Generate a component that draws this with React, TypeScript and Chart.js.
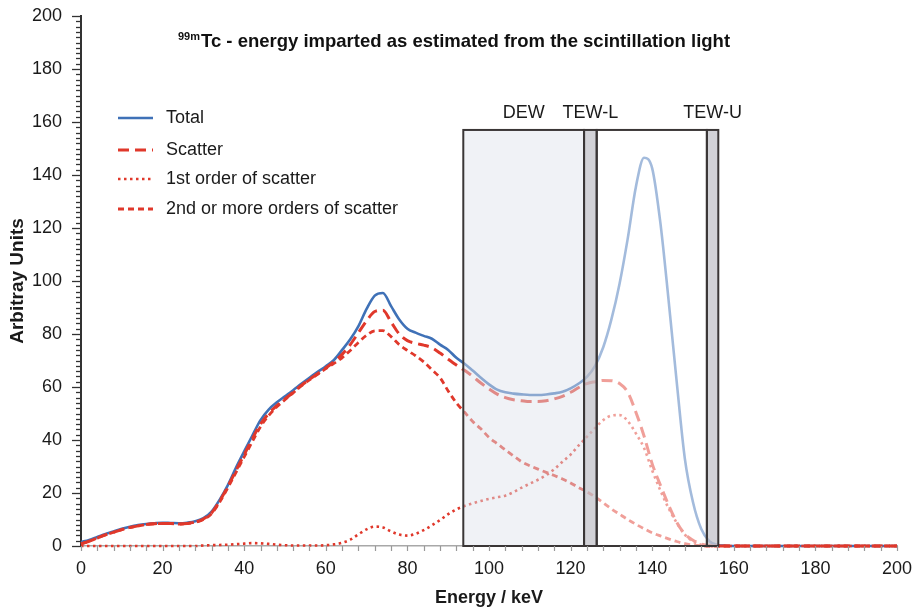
import React, { useEffect, useRef } from "react";
import { Chart, registerables } from "chart.js";

Chart.register(...registerables);

const FONT = "'Liberation Sans', Arial, Helvetica, sans-serif";

// Energy bins (keV)
const energies = [
  0, 2, 4, 6, 8, 10, 12, 14, 16, 18,
  20, 22, 24, 26, 28, 30, 32, 34, 36, 38,
  40, 42, 44, 46, 48, 50, 52, 54, 56, 58,
  60, 62, 64, 66, 68, 70, 72, 74, 76, 78,
  80, 82, 84, 86, 88, 90, 92, 94, 96, 98,
  100, 102, 104, 106, 108, 110, 112, 114, 116, 118,
  120, 122, 124, 126, 128, 130, 132, 134, 136, 138,
  140, 142, 144, 146, 148, 150, 152, 154, 156, 158,
  160, 170, 180, 190, 200,
];

const totalCounts = [
  1.5, 2.3, 3.4, 4.5, 5.5, 6.5, 7.3, 7.9, 8.3, 8.6,
  8.8, 8.7, 8.6, 8.8, 9.3, 10.5, 13, 17.5, 23, 29.6,
  35.7, 41.7, 47.5, 51.5, 54.2, 56.5, 58.8, 61.2, 63.5, 65.7,
  67.8, 70.2, 74, 78, 83, 89.5, 94.5, 95.5, 90.5, 85.5,
  82, 80.5, 79.3, 78.2, 76, 74, 71, 68.8, 66.2, 63.5,
  61, 59, 58, 57.5, 57.2, 57, 57, 57.2, 57.6, 58.2,
  59.5, 61.3, 63.8, 68, 75, 85.5, 99, 116, 135.5, 146.5,
  142.5, 122, 93, 62, 33, 16.5, 6.5, 1.8, 0.4, 0.1,
  0, 0, 0, 0, 0,
];

const scatterCounts = [
  0.8, 1.8, 3, 4.2, 5.2, 6.2, 7, 7.6, 8.1, 8.4,
  8.5, 8.5, 8.3, 8.5, 9, 10.2, 12.5, 17, 22.5, 28.5,
  34.5, 40.5, 46, 50, 53, 55.5, 58, 60.6, 62.9, 65,
  67.2, 69.5, 72.3, 76, 80.5, 85, 88.5, 89, 84.5, 80,
  77.5, 76.5, 75.8, 74.8, 72.8, 70.5, 68.3, 66.3, 64, 61.5,
  59.3, 57.3, 56, 55.2, 54.8, 54.5, 54.5, 54.8, 55.5, 56.5,
  58, 59.8, 61.3, 62, 62.5, 62.4, 61.3, 58, 50.5, 41.5,
  31, 23, 15.5, 9, 4.5, 2.2, 0.8, 0.2, 0, 0,
  0, 0, 0, 0, 0,
];

const firstOrderCounts = [
  0, 0, 0, 0, 0, 0, 0, 0, 0, 0,
  0, 0, 0, 0, 0, 0.2, 0.3, 0.4, 0.5, 0.7,
  0.9, 1.1, 1, 0.8, 0.5, 0.3, 0.2, 0.2, 0.2, 0.2,
  0.3, 0.6, 1.2, 2.4, 4.4, 6.3, 7.3, 7, 5.5, 4.3,
  3.9, 4.6, 6, 7.8, 9.8, 12, 13.8, 15.1, 16.1, 17,
  17.8, 18.4, 19, 20.3, 22, 23.5, 25, 26.7, 29, 31.8,
  34.5, 38, 41.2, 44.5, 47.5, 49.2, 49.4, 47.2, 42.5, 37,
  28.5, 21, 14.3, 8.8, 4.3, 1.7, 0.5, 0, 0, 0,
  0, 0, 0, 0, 0,
];

const higherOrderCounts = [
  0.8, 1.8, 3, 4.2, 5.2, 6.2, 7, 7.6, 8.1, 8.4,
  8.5, 8.5, 8.3, 8.5, 9, 10, 12.2, 16.6, 22, 27.8,
  33.6, 39.4, 45, 49.2, 52.5, 55.2, 57.8, 60.4, 62.7, 64.8,
  66.9, 68.9, 71, 73.8, 76.8, 79.5, 81.2, 81.3, 79, 76,
  73.8, 71.8, 69.5, 66.5, 63.5, 58.5, 54, 50.5, 47, 44.2,
  41, 38.6, 36.3, 34, 31.8, 30.3, 29, 27.8, 26.6, 25.3,
  23.8, 22, 20.5, 18.5, 16.3, 14, 12, 10, 8.2, 6.5,
  5, 3.8, 2.7, 1.7, 0.9, 0.4, 0.1, 0, 0, 0,
  0, 0, 0, 0, 0,
];

// Acquisition energy windows (keV)
const windowNames = ["DEW", "TEW-L", "", "TEW-U"];
const windowLow = [93.7, 123.3, 126.4, 153.4];
const windowHigh = [123.3, 126.4, 153.4, 156.2];
const windowTop = 157;

const seriesLabels = [
  "Total",
  "Scatter",
  "1st order of scatter",
  "2nd or more orders of scatter",
];

const titleSup = "99m";
const titleMain = "Tc - energy imparted as estimated from the scintillation light";
const xTitle = "Energy / keV";
const yTitle = "Arbitray Units";

const BLUE = "#3f71b7";
const RED = "#e0382b";

const toPoints = (vals: number[]) => vals.map((v, i) => ({ x: energies[i], y: v }));

const windowFills = [
  "rgba(224,228,236,0.48)",
  "rgba(200,200,206,0.82)",
  "rgba(255,255,255,0.52)",
  "rgba(200,200,206,0.82)",
];

const windowsPlugin = {
  id: "energyWindows",
  afterDatasetsDraw(chart: any) {
    const { ctx, scales } = chart;
    const x = scales.x;
    const y = scales.y;
    const yTop = y.getPixelForValue(windowTop);
    const yBot = y.getPixelForValue(0);
    ctx.save();
    windowLow.forEach((lo, i) => {
      const x0 = x.getPixelForValue(lo);
      const x1 = x.getPixelForValue(windowHigh[i]);
      ctx.fillStyle = windowFills[i];
      ctx.fillRect(x0, yTop, x1 - x0, yBot - yTop);
    });
    windowLow.forEach((lo, i) => {
      const x0 = x.getPixelForValue(lo);
      const x1 = x.getPixelForValue(windowHigh[i]);
      ctx.strokeStyle = "#3a3636";
      ctx.lineWidth = 2;
      ctx.strokeRect(x0, yTop, x1 - x0, yBot - yTop);
      if (windowNames[i]) {
        ctx.fillStyle = "#1a1a1a";
        ctx.font = `18px ${FONT}`;
        ctx.textAlign = "center";
        ctx.textBaseline = "middle";
        ctx.fillText(windowNames[i], (x0 + x1) / 2, yTop - 17);
      }
    });
    ctx.restore();
  },
};

const decorPlugin = {
  id: "decor",
  afterDraw(chart: any) {
    const { ctx, scales, chartArea } = chart;
    const x = scales.x;
    const y = scales.y;
    ctx.save();
    // minor and major tick marks on the value axis
    ctx.strokeStyle = "#333";
    ctx.lineWidth = 1.3;
    for (let v = 0; v <= 200; v += 2) {
      const py = Math.round(y.getPixelForValue(v)) + 0.5;
      const len = v % 20 === 0 ? 9 : 5;
      ctx.beginPath();
      ctx.moveTo(chartArea.left - len, py);
      ctx.lineTo(chartArea.left, py);
      ctx.stroke();
    }
    // tick marks on the energy axis
    ctx.strokeStyle = "#999";
    ctx.lineWidth = 1.2;
    for (let v = 0; v <= 200; v += 4) {
      const px = Math.round(x.getPixelForValue(v)) + 0.5;
      ctx.beginPath();
      ctx.moveTo(px, chartArea.bottom);
      ctx.lineTo(px, chartArea.bottom + 5);
      ctx.stroke();
    }

    // title with superscript isotope mass
    ctx.fillStyle = "#111";
    ctx.textBaseline = "alphabetic";
    ctx.textAlign = "left";
    ctx.font = `bold 11px ${FONT}`;
    const supW = ctx.measureText(titleSup).width;
    ctx.font = `bold 18.5px ${FONT}`;
    const mainW = ctx.measureText(titleMain).width;
    const total = supW + 1 + mainW;
    const cx = 454;
    const startX = cx - total / 2;
    const baseY = 47;
    ctx.font = `bold 11px ${FONT}`;
    ctx.fillText(titleSup, startX, baseY - 7);
    ctx.font = `bold 18.5px ${FONT}`;
    ctx.fillText(titleMain, startX + supW + 1, baseY);

    // legend
    const rows = [118, 150, 179, 209];
    chart.data.datasets.forEach((ds: any, i: number) => {
      const ry = rows[i];
      ctx.strokeStyle = ds.borderColor;
      ctx.lineWidth = ds.borderWidth;
      ctx.setLineDash(ds.borderDash || []);
      ctx.lineCap = "butt";
      ctx.beginPath();
      ctx.moveTo(118, ry);
      ctx.lineTo(153, ry);
      ctx.stroke();
      ctx.setLineDash([]);
      ctx.fillStyle = "#1a1a1a";
      ctx.font = `18px ${FONT}`;
      ctx.textBaseline = "middle";
      ctx.fillText(ds.label, 166, ry);
    });
    ctx.restore();
  },
};

export default function App() {
  const canvasRef = useRef<HTMLCanvasElement | null>(null);

  useEffect(() => {
    if (!canvasRef.current) return;
    const chart = new Chart(canvasRef.current, {
      type: "line",
      data: {
        datasets: [
          {
            label: seriesLabels[0],
            data: toPoints(totalCounts),
            borderColor: BLUE,
            borderWidth: 2.6,
            pointRadius: 0,
            cubicInterpolationMode: "monotone",
            fill: false,
            clip: false,
            order: 4,
          },
          {
            label: seriesLabels[1],
            data: toPoints(scatterCounts),
            borderColor: RED,
            borderWidth: 3,
            borderDash: [11, 6],
            pointRadius: 0,
            cubicInterpolationMode: "monotone",
            fill: false,
            clip: false,
            order: 1,
          },
          {
            label: seriesLabels[2],
            data: toPoints(firstOrderCounts),
            borderColor: RED,
            borderWidth: 2.6,
            borderDash: [2.5, 3.5],
            pointRadius: 0,
            cubicInterpolationMode: "monotone",
            fill: false,
            clip: false,
            order: 2,
          },
          {
            label: seriesLabels[3],
            data: toPoints(higherOrderCounts),
            borderColor: RED,
            borderWidth: 2.8,
            borderDash: [6, 4],
            pointRadius: 0,
            cubicInterpolationMode: "monotone",
            fill: false,
            clip: false,
            order: 3,
          },
        ],
      },
      options: {
        responsive: false,
        animation: false,
        devicePixelRatio: 1,
        layout: { padding: { left: 0, right: 18, top: 16, bottom: 0 } },
        plugins: {
          legend: { display: false },
          title: { display: false },
          tooltip: { enabled: false },
        },
        scales: {
          x: {
            type: "linear",
            min: 0,
            max: 200,
            grid: { display: false },
            border: { display: true, color: "#a8a8a8", width: 1.5 },
            ticks: {
              stepSize: 20,
              padding: 4,
              color: "#1a1a1a",
              font: { family: FONT, size: 18 },
              maxRotation: 0,
            },
            title: {
              display: true,
              text: xTitle,
              color: "#1a1a1a",
              font: { family: FONT, size: 18, weight: "bold" },
              padding: { top: 0, bottom: 4 },
            },
            afterFit: (s: any) => {
              s.height = 67;
              s.paddingLeft = 0;
              s.paddingRight = 0;
            },
          },
          y: {
            type: "linear",
            min: 0,
            max: 200,
            grid: { display: false },
            border: { display: true, color: "#333", width: 2 },
            ticks: {
              stepSize: 20,
              padding: 11,
              color: "#1a1a1a",
              font: { family: FONT, size: 18 },
            },
            title: {
              display: true,
              text: yTitle,
              color: "#1a1a1a",
              font: { family: FONT, size: 19, weight: "bold" },
              padding: { top: 6, bottom: 0 },
            },
            afterFit: (s: any) => {
              s.width = 81;
              s.paddingTop = 0;
              s.paddingBottom = 0;
            },
          },
        },
      } as any,
      plugins: [windowsPlugin, decorPlugin],
    });
    return () => chart.destroy();
  }, []);

  return (
    <div style={{ position: "fixed", left: 0, top: 0, width: 915, height: 613, background: "#fff" }}>
      <canvas ref={canvasRef} width={915} height={613} />
    </div>
  );
}
